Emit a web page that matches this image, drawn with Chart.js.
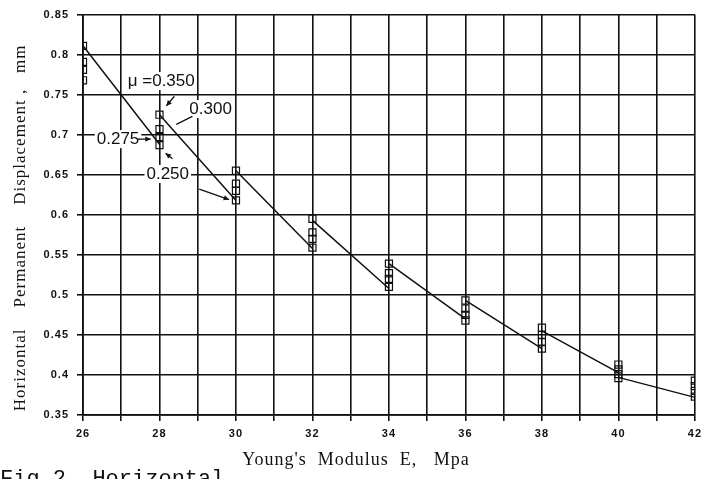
<!DOCTYPE html>
<html>
<head>
<title>Horizontal Permanent Displacement vs Young's Modulus</title>
<script src="https://cdn.jsdelivr.net/npm/chart.js@4.4.2/dist/chart.umd.min.js"></script>
<style>
  body { margin: 0; background: #fff; }
  #wrap { position: relative; width: 707px; height: 479px; }
</style>
</head>
<body>
<div id="wrap"><canvas id="dispChart"></canvas></div>
<script>
// Young's modulus E (MPa) and displacement (mm) for each Poisson's ratio
const modulusE = [26, 28, 30, 32, 34, 36, 38, 40, 42];
const mu350 = [0.811, 0.725, 0.655, 0.595, 0.539, 0.493, 0.459, 0.413, 0.393];
const mu300 = [0.791, 0.707, 0.639, 0.578, 0.527, 0.483, 0.450, 0.407, 0.386];
const mu275 = [0.781, 0.697, 0.630, 0.570, 0.520, 0.475, 0.441, 0.401, 0.380];
const mu250 = [0.768, 0.687, 0.618, 0.559, 0.510, 0.468, 0.433, 0.396, 0.373];

// fitted line: one segment from each E to the next one
const segStartE = [26, 28, 30, 32, 34, 36, 38, 40];
const segStartY = [0.811, 0.725, 0.655, 0.593, 0.539, 0.493, 0.455, 0.397];
const segEndE = [28, 30, 32, 34, 36, 38, 40, 42];
const segEndY = [0.688, 0.618, 0.558, 0.508, 0.470, 0.433, 0.403, 0.372];

const xLabelled = [26, 28, 30, 32, 34, 36, 38, 40, 42];

// labels written on the plot (data coordinates)
const notes = [
  { text: 'μ =0.350', x: 27.17, y: 0.767 },
  { text: '0.300', x: 28.78, y: 0.732 },
  { text: '0.275', x: 26.36, y: 0.6945 },
  { text: '0.250', x: 27.66, y: 0.651 }
];
const pointers = [
  { from: [28.39, 0.748], to: [28.18, 0.736], head: true },
  { from: [28.86, 0.723], to: [28.44, 0.713], head: false },
  { from: [27.43, 0.6945], to: [27.77, 0.6945], head: true },
  { from: [28.34, 0.670], to: [28.16, 0.677], head: true },
  { from: [29.04, 0.632], to: [29.82, 0.619], head: true }
];

const toPoints = vals => modulusE.map((e, i) => ({ x: e, y: vals[i] }));

const segData = [];
segStartE.forEach((e, i) => {
  segData.push({ x: e, y: segStartY[i] });
  segData.push({ x: segEndE[i], y: segEndY[i] });
  segData.push({ x: segEndE[i], y: null });
});

const ink = '#111';

const markerSet = (label, vals) => ({
  label: label,
  data: toPoints(vals),
  pointStyle: 'rect',
  pointRadius: 5,
  pointBorderWidth: 1.2,
  pointBorderColor: ink,
  pointBackgroundColor: 'rgba(0,0,0,0)',
  showLine: false
});

const spacingPlugin = {
  id: 'spacing',
  beforeDraw(chart) { chart.ctx.letterSpacing = '1px'; },
  afterDraw(chart) { chart.ctx.letterSpacing = '0px'; }
};

const notesPlugin = {
  id: 'notes',
  afterDatasetsDraw(chart) {
    const ctx = chart.ctx;
    const xs = chart.scales.x, ys = chart.scales.y;
    ctx.save();
    ctx.letterSpacing = '0px';
    ctx.font = '17px "Liberation Sans"';
    ctx.textBaseline = 'middle';
    ctx.textAlign = 'left';
    notes.forEach(n => {
      const px = xs.getPixelForValue(n.x), py = ys.getPixelForValue(n.y);
      const w = ctx.measureText(n.text).width;
      ctx.fillStyle = '#fff';
      ctx.fillRect(px - 2, py - 9, w + 4, 18);
      ctx.fillStyle = ink;
      ctx.fillText(n.text, px, py);
    });
    ctx.strokeStyle = ink;
    ctx.fillStyle = ink;
    ctx.lineWidth = 1.3;
    pointers.forEach(p => {
      const x1 = xs.getPixelForValue(p.from[0]), y1 = ys.getPixelForValue(p.from[1]);
      const x2 = xs.getPixelForValue(p.to[0]), y2 = ys.getPixelForValue(p.to[1]);
      ctx.beginPath();
      ctx.moveTo(x1, y1);
      ctx.lineTo(x2, y2);
      ctx.stroke();
      if (p.head) {
        const a = Math.atan2(y2 - y1, x2 - x1);
        ctx.beginPath();
        ctx.moveTo(x2, y2);
        ctx.lineTo(x2 - 6 * Math.cos(a - 0.45), y2 - 6 * Math.sin(a - 0.45));
        ctx.lineTo(x2 - 6 * Math.cos(a + 0.45), y2 - 6 * Math.sin(a + 0.45));
        ctx.closePath();
        ctx.fill();
      }
    });
    ctx.restore();
  },
  afterDraw(chart) {
    // figure caption, cut off by the bottom edge like the scan
    const ctx = chart.ctx;
    ctx.save();
    ctx.letterSpacing = '0px';
    ctx.font = '22px "Liberation Mono"';
    ctx.fillStyle = ink;
    ctx.textBaseline = 'alphabetic';
    ctx.fillText('Fig.2  Horizontal', 0, 485);
    ctx.restore();
  }
};

const chart = new Chart(document.getElementById('dispChart'), {
  type: 'scatter',
  data: {
    datasets: [
      {
        label: 'fit',
        data: segData,
        showLine: true,
        spanGaps: false,
        borderColor: ink,
        borderWidth: 1.5,
        pointRadius: 0,
        tension: 0
      },
      markerSet('μ = 0.350', mu350),
      markerSet('μ = 0.300', mu300),
      markerSet('μ = 0.275', mu275),
      markerSet('μ = 0.250', mu250)
    ]
  },
  options: {
    responsive: true,
    maintainAspectRatio: false,
    animation: false,
    layout: { padding: { left: 0, right: 8, top: 13, bottom: 0 } },
    plugins: {
      legend: { display: false },
      tooltip: { enabled: false }
    },
    scales: {
      x: {
        type: 'linear',
        min: 26,
        max: 42,
        afterFit: s => { s.height = 64; },
        ticks: {
          stepSize: 1,
          autoSkip: false,
          maxRotation: 0,
          padding: 6,
          color: ink,
          font: { family: '"Liberation Sans"', size: 11, weight: 'bold' },
          callback: v => xLabelled.includes(v) ? String(v) : ''
        },
        grid: { color: ink, lineWidth: 1.6, tickLength: 6, tickColor: ink },
        border: { color: ink, width: 1.8 },
        title: {
          display: true,
          text: "Young's  Modulus  E,   Mpa            ",
          color: ink,
          font: { family: '"Liberation Serif"', size: 18 },
          padding: { top: 0, bottom: 8 }
        }
      },
      y: {
        min: 0.35,
        max: 0.85,
        afterFit: s => { s.width = 83; },
        ticks: {
          stepSize: 0.05,
          padding: 8,
          color: ink,
          font: { family: '"Liberation Sans"', size: 11, weight: 'bold' },
          callback: v => String(parseFloat(v.toFixed(2)))
        },
        grid: { color: ink, lineWidth: 1.6, tickLength: 6, tickColor: ink },
        border: { color: ink, width: 1.8 },
        title: {
          display: true,
          text: 'Horizontal    Permanent    Displacement ,   mm     ',
          color: ink,
          font: { family: '"Liberation Serif"', size: 17 },
          padding: { top: 10, bottom: 0 }
        }
      }
    }
  },
  plugins: [spacingPlugin, notesPlugin]
});
</script>
</body>
</html>
